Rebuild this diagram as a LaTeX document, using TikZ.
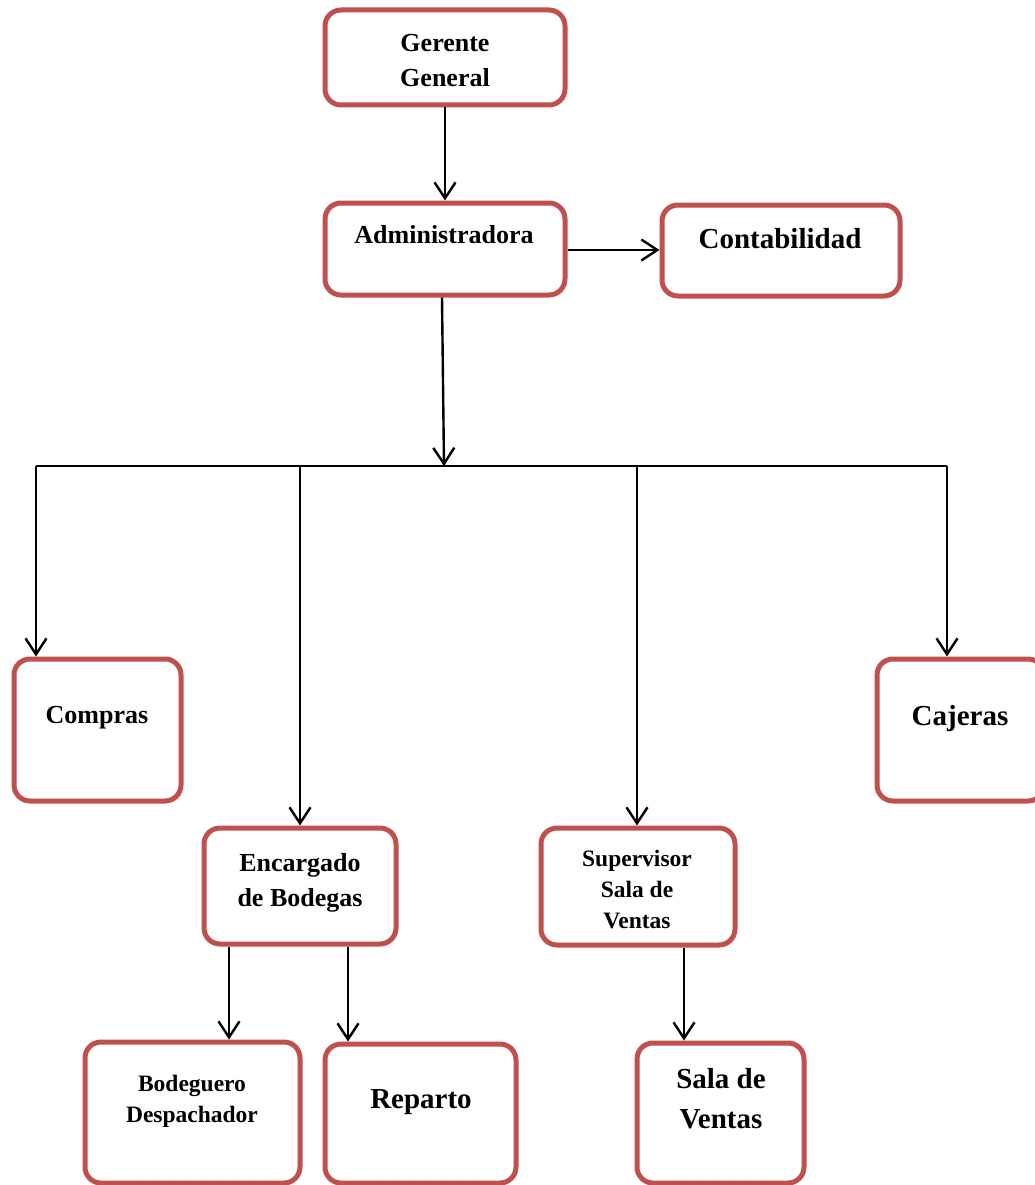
\documentclass[tikz,border=0pt]{standalone}
\usepackage{fontspec}
\setmainfont{Liberation Serif}
\usetikzlibrary{arrows.meta}
\definecolor{boxred}{RGB}{192,80,77}
\tikzset{
  orgbox/.style={draw=boxred, line width=5pt, rounded corners=16pt, rectangle, fill=none, inner sep=0pt},
  arr/.style={line width=2.4pt, -{Straight Barb[length=16pt,width=21pt,line width=2.4pt]}},
  busline/.style={line width=2pt},
  ta/.style={anchor=base, inner sep=0pt, font=\bfseries\fontsize{26}{30}\selectfont},
  tb/.style={anchor=base, inner sep=0pt, font=\bfseries\fontsize{29}{33}\selectfont},
  tc/.style={anchor=base, inner sep=0pt, font=\bfseries\fontsize{23.5}{27}\selectfont},
}
\begin{document}
\begin{tikzpicture}[x=1pt,y=-1pt]
\useasboundingbox[fill=white] (0,0) rectangle (1034,1185);
% boxes
\node[orgbox, minimum width=240pt, minimum height=95pt] (gg) at (445,57.5) {};
\node[orgbox, minimum width=240pt, minimum height=92pt] (adm) at (445,249) {};
\node[orgbox, minimum width=238pt, minimum height=91pt] (cont) at (781,250.5) {};
\node[orgbox, minimum width=167pt, minimum height=142pt] (comp) at (97.5,730) {};
\node[orgbox, minimum width=167pt, minimum height=142pt] (caj) at (960.5,730) {};
\node[orgbox, minimum width=192pt, minimum height=116pt] (enc) at (300,886) {};
\node[orgbox, minimum width=194pt, minimum height=117pt] (sup) at (638,886.5) {};
\node[orgbox, minimum width=215pt, minimum height=141pt] (bod) at (192.5,1112.5) {};
\node[orgbox, minimum width=191pt, minimum height=139pt] (rep) at (420.5,1113.5) {};
\node[orgbox, minimum width=167pt, minimum height=140pt] (sal) at (720.5,1113) {};
% texts
\node[ta] (t-gg1) at (445,52) {Gerente};
\node[ta] (t-gg2) at (445,87) {General};
\node[ta] (t-adm) at (444,243) {Administradora};
\node[tb] (t-cont) at (780,248) {Contabilidad};
\node[ta] (t-comp) at (97,723) {Compras};
\node[tb] (t-caj) at (960,725) {Cajeras};
\node[ta] (t-enc1) at (300,871) {Encargado};
\node[ta] (t-enc2) at (300,906) {de Bodegas};
\node[tc] (t-sup1) at (637,866) {Supervisor};
\node[tc] (t-sup2) at (637,897) {Sala de};
\node[tc] (t-sup3) at (637,928) {Ventas};
\node[tc] (t-bod1) at (192,1091) {Bodeguero};
\node[tc] (t-bod2) at (192,1122) {Despachador};
\node[tb] (t-rep) at (421,1108) {Reparto};
\node[tb] (t-sal1) at (721,1088) {Sala de};
\node[tb] (t-sal2) at (721,1128) {Ventas};
% bus coordinates
\coordinate (busc) at (444,466);
\coordinate (b1) at (36,466);
\coordinate (b2) at (300,466);
\coordinate (b3) at (637,466);
\coordinate (b4) at (947,466);
\coordinate (e1) at (229,0);
\coordinate (e2) at (348,0);
\coordinate (s1) at (684,0);
\coordinate (ac) at (0,250);
% connectors
\draw[arr] (gg.south) -- (adm.north);
\draw[arr] (adm.east |- ac) -- (cont.west |- ac);
\draw[arr] ([xshift=-3pt]adm.south) -- (busc);
\draw[busline] (b1) -- (b4);
\draw[arr] (b1) -- (b1 |- comp.north);
\draw[arr] (b2) -- (b2 |- enc.north);
\draw[arr] (b3) -- (b3 |- sup.north);
\draw[arr] (b4) -- (b4 |- caj.north);
\draw[arr] (e1 |- enc.south) -- (e1 |- bod.north);
\draw[arr] (e2 |- enc.south) -- (e2 |- rep.north);
\draw[arr] (s1 |- sup.south) -- (s1 |- sal.north);
\end{tikzpicture}
\end{document}
